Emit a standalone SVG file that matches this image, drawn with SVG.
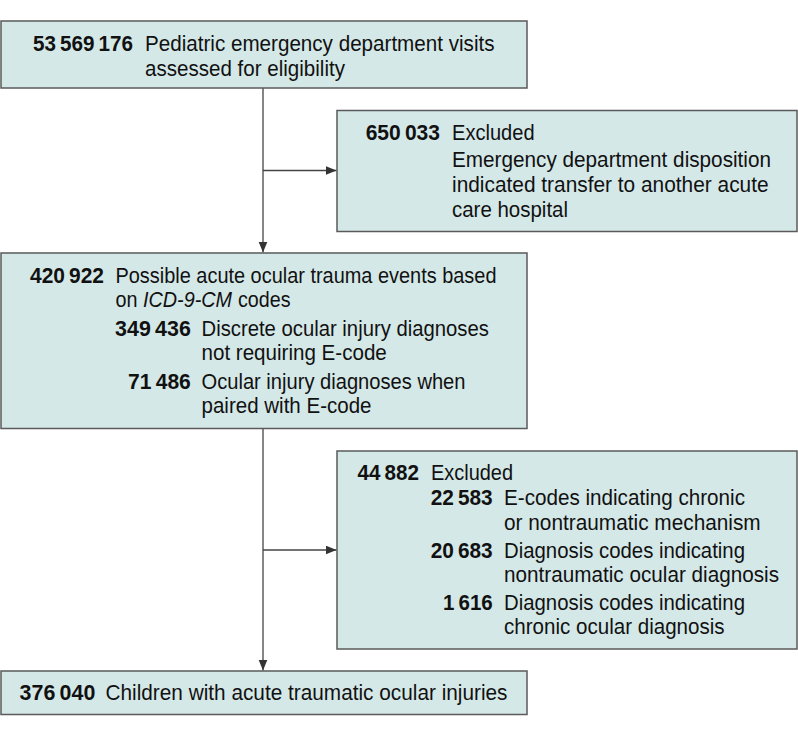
<svg xmlns="http://www.w3.org/2000/svg" width="798" height="737" viewBox="0 0 798 737">
<defs>
<style>
.box{fill:#d5e8e8;stroke:#5a5a5a;stroke-width:1.5}
text{font-family:"Liberation Sans",Arial,sans-serif;font-size:22px;fill:#111}
.n{font-weight:bold;text-anchor:end}
.i{font-style:italic}
.c{fill:none;stroke:#444;stroke-width:1.3}
</style>
<marker id="ah" markerUnits="userSpaceOnUse" markerWidth="12" markerHeight="10" refX="11" refY="4.5" orient="auto">
<path d="M0,0 L11,4.5 L0,9 z" fill="#333"/>
</marker>
</defs>
<g id="connectors">
<line class="c" x1="263" y1="88" x2="263" y2="252.5" marker-end="url(#ah)"/>
<line class="c" x1="263" y1="170.5" x2="336.5" y2="170.5" marker-end="url(#ah)"/>
<line class="c" x1="263" y1="428" x2="263" y2="670.5" marker-end="url(#ah)"/>
<line class="c" x1="263" y1="550" x2="336.5" y2="550" marker-end="url(#ah)"/>
</g>
<g id="node1">
<rect class="box" x="1" y="21" width="526" height="67"/>
<text class="n" x="133" y="51" textLength="100" lengthAdjust="spacingAndGlyphs">53&#8201;569&#8201;176</text>
<text x="145" y="51" textLength="349.5" lengthAdjust="spacingAndGlyphs">Pediatric emergency department visits</text>
<text x="145" y="76" textLength="200" lengthAdjust="spacingAndGlyphs">assessed for eligibility</text>
</g>
<g id="node2">
<rect class="box" x="337" y="110.5" width="460" height="121"/>
<text class="n" x="440" y="140" textLength="74.3" lengthAdjust="spacingAndGlyphs">650&#8201;033</text>
<text x="452" y="140" textLength="82.6" lengthAdjust="spacingAndGlyphs">Excluded</text>
<text x="452" y="167" textLength="319" lengthAdjust="spacingAndGlyphs">Emergency department disposition</text>
<text x="452" y="192" textLength="316.6" lengthAdjust="spacingAndGlyphs">indicated transfer to another acute</text>
<text x="452" y="216.5" textLength="116" lengthAdjust="spacingAndGlyphs">care hospital</text>
</g>
<g id="node3">
<rect class="box" x="1" y="253" width="526" height="175.5"/>
<text class="n" x="104" y="283" textLength="74" lengthAdjust="spacingAndGlyphs">420&#8201;922</text>
<text x="115.5" y="283" textLength="381" lengthAdjust="spacingAndGlyphs">Possible acute ocular trauma events based</text>
<text x="115.5" y="307" textLength="22" lengthAdjust="spacingAndGlyphs">on</text>
<text class="i" x="143" y="307" textLength="89" lengthAdjust="spacingAndGlyphs">ICD-9-CM</text>
<text x="238" y="307" textLength="52.5" lengthAdjust="spacingAndGlyphs">codes</text>
<text class="n" x="190.8" y="336" textLength="75.7" lengthAdjust="spacingAndGlyphs">349&#8201;436</text>
<text x="201.5" y="336" textLength="287.4" lengthAdjust="spacingAndGlyphs">Discrete ocular injury diagnoses</text>
<text x="201.5" y="360" textLength="185.3" lengthAdjust="spacingAndGlyphs">not requiring E-code</text>
<text class="n" x="190.8" y="389" textLength="62.7" lengthAdjust="spacingAndGlyphs">71&#8201;486</text>
<text x="201.5" y="389" textLength="264" lengthAdjust="spacingAndGlyphs">Ocular injury diagnoses when</text>
<text x="201.5" y="413" textLength="170" lengthAdjust="spacingAndGlyphs">paired with E-code</text>
</g>
<g id="node4">
<rect class="box" x="337" y="451" width="460" height="198"/>
<text class="n" x="419" y="480" textLength="61.5" lengthAdjust="spacingAndGlyphs">44&#8201;882</text>
<text x="431" y="480" textLength="82" lengthAdjust="spacingAndGlyphs">Excluded</text>
<text class="n" x="492.7" y="505" textLength="62" lengthAdjust="spacingAndGlyphs">22&#8201;583</text>
<text x="504" y="505" textLength="241" lengthAdjust="spacingAndGlyphs">E-codes indicating chronic</text>
<text x="504" y="530" textLength="256.7" lengthAdjust="spacingAndGlyphs">or nontraumatic mechanism</text>
<text class="n" x="492.7" y="558" textLength="62" lengthAdjust="spacingAndGlyphs">20&#8201;683</text>
<text x="504" y="558" textLength="241" lengthAdjust="spacingAndGlyphs">Diagnosis codes indicating</text>
<text x="504" y="582" textLength="275" lengthAdjust="spacingAndGlyphs">nontraumatic ocular diagnosis</text>
<text class="n" x="492.7" y="610" textLength="49.7" lengthAdjust="spacingAndGlyphs">1&#8201;616</text>
<text x="504" y="610" textLength="241" lengthAdjust="spacingAndGlyphs">Diagnosis codes indicating</text>
<text x="504" y="634" textLength="220.6" lengthAdjust="spacingAndGlyphs">chronic ocular diagnosis</text>
</g>
<g id="node5">
<rect class="box" x="1" y="671" width="526" height="43.5"/>
<text class="n" x="95.3" y="700" textLength="75.7" lengthAdjust="spacingAndGlyphs">376&#8201;040</text>
<text x="105.5" y="700" textLength="402" lengthAdjust="spacingAndGlyphs">Children with acute traumatic ocular injuries</text>
</g>
</svg>
